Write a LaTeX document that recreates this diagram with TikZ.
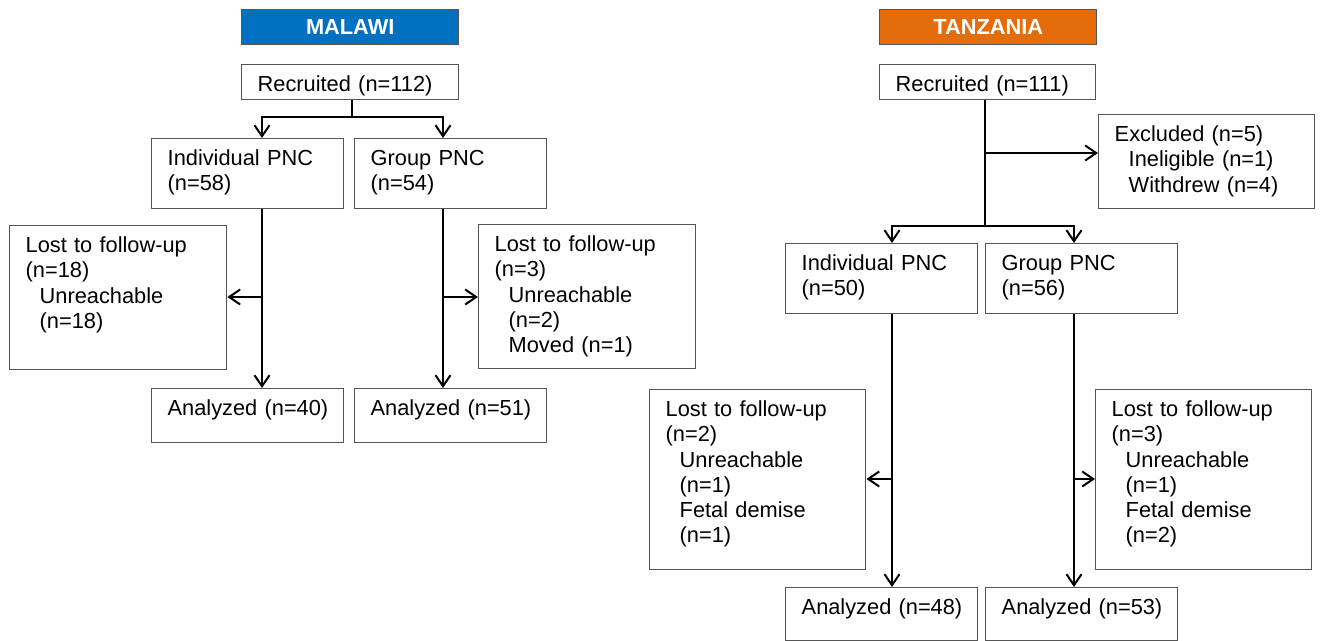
\documentclass[tikz,border=0pt]{standalone}
\usepackage{fontspec}
\setmainfont{Liberation Sans}
\usetikzlibrary{arrows.meta}
\definecolor{malawiblue}{HTML}{0070C0}
\definecolor{tzorange}{HTML}{E46C0A}
\definecolor{boxgray}{HTML}{555555}
\newcommand{\ind}{\hspace*{7pt}}
\tikzset{
  box/.style 2 args={draw=boxgray, line width=0.7pt, anchor=north west,
    align=left, inner xsep=8pt, inner ysep=0pt,
    text width=#1, text height=13.5pt, text depth=#2},
  hdr/.style={draw=boxgray, line width=0.7pt, anchor=north west,
    minimum width=108.5pt, minimum height=17.5pt, inner sep=0pt,
    text=white, font=\fontsize{10.9}{12.6}\selectfont\bfseries},
  line/.style={line width=1pt},
  arr/.style={line width=1pt, -{Straight Barb[length=5.5pt,width=7.5pt]}}
}
\begin{document}
\begin{tikzpicture}[x=0.5pt, y=-0.5pt, font=\fontsize{10.9}{12.6}\selectfont]
  \useasboundingbox (0,0) rectangle (1321,641);
  % Malawi
  \node[hdr, fill=malawiblue] (mhdr) at (241,9) {MALAWI};
  \node[box={92.5pt}{4pt}] (mrec) at (241,64) {Recruited (n=112)};
  \node[box={80pt}{21.5pt}] (mind) at (151,138) {Individual PNC\\(n=58)};
  \node[box={80pt}{21.5pt}] (mgrp) at (354,138) {Group PNC\\(n=54)};
  \node[box={92.5pt}{58.5pt}] (mlostL) at (9,225)
    {Lost to follow-up\\(n=18)\\\ind Unreachable\\\ind (n=18)};
  \node[box={92.5pt}{58.5pt}] (mlostR) at (478,224)
    {Lost to follow-up\\(n=3)\\\ind Unreachable\\\ind (n=2)\\\ind Moved (n=1)};
  \node[box={80pt}{13.5pt}] (manaL) at (151,388) {Analyzed~(n=40)};
  \node[box={80pt}{13.5pt}] (manaR) at (354,388) {Analyzed~(n=51)};
  \coordinate (msplit) at (352,117);
  \coordinate (mjL) at (262,297);
  \coordinate (mjR) at (443,297);
  \draw[line] (mrec.south -| msplit) -- (msplit);
  \draw[arr] (msplit) -| (mjL |- mind.north);
  \draw[arr] (msplit) -| (mjR |- mgrp.north);
  \draw[arr] (mjL |- mind.south) -- (mjL |- manaL.north);
  \draw[arr] (mjL) -- (mjL -| mlostL.east);
  \draw[arr] (mjR |- mgrp.south) -- (mjR |- manaR.north);
  \draw[arr] (mjR) -- (mjR -| mlostR.west);
  % Tanzania
  \node[hdr, fill=tzorange] (thdr) at (879,9) {TANZANIA};
  \node[box={92pt}{4pt}] (trec) at (879,64) {Recruited (n=111)};
  \node[box={92pt}{33.5pt}] (texcl) at (1098,114)
    {Excluded (n=5)\\\ind Ineligible (n=1)\\\ind Withdrew (n=4)};
  \node[box={80pt}{21.5pt}] (tind) at (785,243) {Individual PNC\\(n=50)};
  \node[box={80pt}{21.5pt}] (tgrp) at (985,243) {Group PNC\\(n=56)};
  \node[box={92pt}{76.5pt}] (tlostL) at (649,389)
    {Lost to follow-up\\(n=2)\\\ind Unreachable\\\ind (n=1)\\\ind Fetal demise\\\ind (n=1)};
  \node[box={92pt}{76.5pt}] (tlostR) at (1095,389)
    {Lost to follow-up\\(n=3)\\\ind Unreachable\\\ind (n=1)\\\ind Fetal demise\\\ind (n=2)};
  \node[box={80pt}{13pt}] (tanaL) at (785,587) {Analyzed~(n=48)};
  \node[box={80pt}{13pt}] (tanaR) at (985,587) {Analyzed~(n=53)};
  \coordinate (texc) at (985,153);
  \coordinate (tsplit) at (985,226);
  \coordinate (tjL) at (892,479);
  \coordinate (tjR) at (1074,479);
  \draw[line] (trec.south -| tsplit) -- (tsplit);
  \draw[arr] (texc) -- (texc -| texcl.west);
  \draw[arr] (tsplit) -| (tjL |- tind.north);
  \draw[arr] (tsplit) -| (tjR |- tgrp.north);
  \draw[arr] (tjL |- tind.south) -- (tjL |- tanaL.north);
  \draw[arr] (tjL) -- (tjL -| tlostL.east);
  \draw[arr] (tjR |- tgrp.south) -- (tjR |- tanaR.north);
  \draw[arr] (tjR) -- (tjR -| tlostR.west);
\end{tikzpicture}
\end{document}
